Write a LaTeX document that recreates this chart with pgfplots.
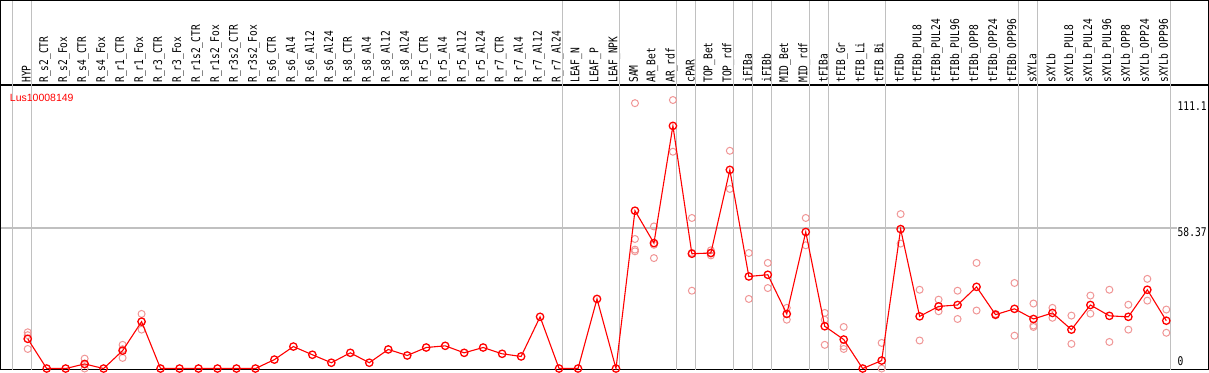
\documentclass[border=0pt]{standalone}
\usepackage{pgfplots}
\pgfplotsset{compat=1.18}
\usepackage{fontspec}
\setmainfont{Liberation Sans}
\newfontfamily\hdr[FakeStretch=0.8]{DejaVu Sans Mono}
\definecolor{rep}{RGB}{240,150,150}
\definecolor{gridg}{RGB}{192,192,192}
\begin{document}
\begin{tikzpicture}
\begin{axis}[
  width=1209pt, height=285pt, scale only axis,
  xmin=-1.421, xmax=62.211, ymin=-0.41, ymax=117.36,
  axis line style={black, line width=1.5pt},
  xtick={0,...,60},
  xticklabels={HYP, R\_s2\_CTR, R\_s2\_Fox, R\_s4\_CTR, R\_s4\_Fox, R\_r1\_CTR, R\_r1\_Fox, R\_r3\_CTR, R\_r3\_Fox, R\_r1s2\_CTR, R\_r1s2\_Fox, R\_r3s2\_CTR, R\_r3s2\_Fox, R\_s6\_CTR, R\_s6\_Al4, R\_s6\_Al12, R\_s6\_Al24, R\_s8\_CTR, R\_s8\_Al4, R\_s8\_Al12, R\_s8\_Al24, R\_r5\_CTR, R\_r5\_Al4, R\_r5\_Al12, R\_r5\_Al24, R\_r7\_CTR, R\_r7\_Al4, R\_r7\_Al12, R\_r7\_Al24, LEAF\_N, LEAF\_P, LEAF\_NPK, SAM, AR\_Bet, AR\_rdf, cPAR, TOP\_Bet, TOP\_rdf, iFIBa, iFIBb, MID\_Bet, MID\_rdf, tFIBa, tFIB\_Gr, tFIB\_Li, tFIB\_Bi, tFIBb, tFIBb\_PUL8, tFIBb\_PUL24, tFIBb\_PUL96, tFIBb\_OPP8, tFIBb\_OPP24, tFIBb\_OPP96, sXYLa, sXYLb, sXYLb\_PUL8, sXYLb\_PUL24, sXYLb\_PUL96, sXYLb\_OPP8, sXYLb\_OPP24, sXYLb\_OPP96},
  xticklabel pos=upper,
  major tick length=0pt,
  ytick=\empty,
  xticklabel style={font=\hdr\fontsize{12}{12}\selectfont, yshift=2pt, xshift=-1.5pt, rotate=90, anchor=west, inner sep=0pt},
  clip mode=individual,
]
% grid lines
\pgfplotsinvokeforeach{-0.8,0.2,28.2,31.2,34.2,35.2,37.2,38.2,39.2,41.2,42.2,45.2,52.2,53.2,60.2}{
  \draw[gridg, line width=1.2pt] (axis cs:#1,-0.41) -- ([yshift=84pt]axis cs:#1,117.36);
}
\draw[gridg, line width=1.2pt] (axis cs:-1.421,58.14) -- (axis cs:60.58,58.14);
% header box
\draw[black, line width=1.5pt] (rel axis cs:0,1) -- ([yshift=84.25pt]rel axis cs:0,1) -- ([yshift=84.25pt]rel axis cs:1,1) -- (rel axis cs:1,1);
% replicates
\addplot[rep, only marks, mark=o, mark size=3.5pt, mark options={line width=1pt}] coordinates {
(0,15.0) (0,13.8) (0,8.1)
(3,4.1) (3,1.6) (3,0)
(5,9.8) (5,4.4) (5,8.0)
(6,22.6) (6,16.1) (6,19.5)
(32,109.8) (32,53.6) (32,49.2) (32,48.5)
(33,58.8) (33,45.7) (33,51.2)
(34,111.1) (34,89.7)
(35,62.3) (35,32.2) (35,47.9)
(36,48.9) (36,46.8) (36,47.7)
(37,90.1) (37,74.3)
(38,47.8) (38,28.8)
(39,43.7) (39,33.3)
(40,25.1) (40,20.2)
(41,62.3) (41,51.0)
(42,23.0) (42,20.2) (42,9.8)
(43,17.2) (43,9.2) (43,8.1)
(45,10.6) (45,0)
(46,63.9) (46,51.7)
(47,32.6) (47,11.6)
(48,28.5) (48,23.7)
(49,32.2) (49,20.5)
(50,43.7) (50,24.0)
(51,22.6) (51,22.0)
(52,35.4) (52,13.6)
(53,26.9) (53,17.8) (53,17.2)
(54,25.1) (54,21.0)
(55,21.9) (55,10.2)
(56,30.2) (56,22.7)
(57,32.6) (57,11.0)
(58,26.4) (58,16.1)
(59,37.1) (59,28.1)
(60,24.4) (60,14.8)
};
% means
\addplot[red, line width=1.1pt, mark=o, mark size=3.7pt, mark options={line width=1.3pt}] coordinates {
(0,12.3) (1,0) (2,0) (3,1.9) (4,0) (5,7.4) (6,19.4) (7,0) (8,0) (9,0)
(10,0) (11,0) (12,0) (13,3.7) (14,9.1) (15,5.7) (16,2.4) (17,6.5) (18,2.4) (19,7.9)
(20,5.4) (21,8.7) (22,9.4) (23,6.5) (24,8.7) (25,6.1) (26,5.0) (27,21.4) (28,0) (29,0)
(30,28.8) (31,0) (32,65.3) (33,51.9) (34,100.4) (35,47.5) (36,47.8) (37,82.2) (38,38.1) (39,38.8)
(40,22.6) (41,56.5) (42,17.5) (43,12.0) (44,0) (45,3.3) (46,57.7) (47,21.6) (48,25.7) (49,26.3)
(50,33.8) (51,22.3) (52,24.7) (53,20.5) (54,23.0) (55,16.1) (56,26.3) (57,21.8) (58,21.4) (59,32.6)
(60,19.8)
};
% labels
\node[anchor=west, inner sep=0pt, red, font=\fontsize{10.5}{12}\selectfont] at (axis cs:-0.947,112.1) {Lus10008149};
\node[anchor=west, inner sep=0pt, font=\hdr\fontsize{12}{12}\selectfont] at (axis cs:60.59,108.4) {111.1};
\node[anchor=west, inner sep=0pt, font=\hdr\fontsize{12}{12}\selectfont] at (axis cs:60.59,56.6) {58.37};
\node[anchor=west, inner sep=0pt, font=\hdr\fontsize{12}{12}\selectfont] at (axis cs:60.59,3.0) {0};
\end{axis}
\end{tikzpicture}
\end{document}
